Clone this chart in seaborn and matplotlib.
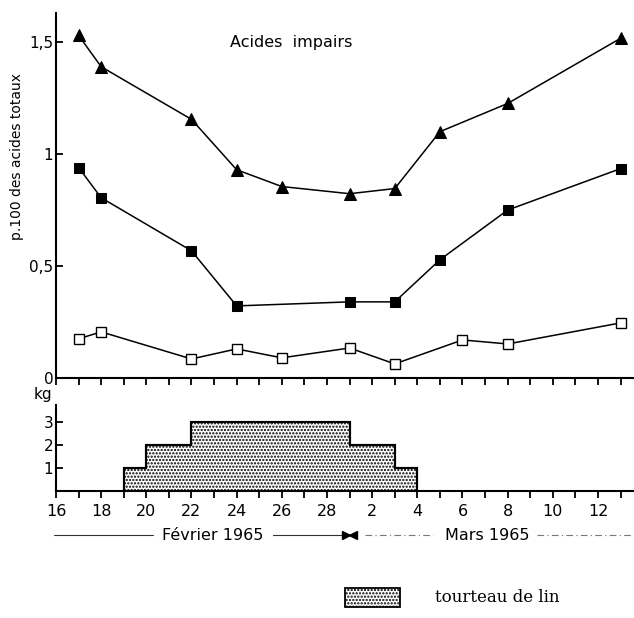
import matplotlib
matplotlib.use("Agg")
import matplotlib.pyplot as plt
import matplotlib.transforms as mtransforms
from matplotlib.patches import Rectangle
import seaborn as sns
import numpy as np

# ---- data (x = day counted from 16 Feb 1965 = 16; 1 March = 29) ----
tri_days = [17, 18, 22, 24, 26, 29, 31, 33, 36, 41]
tri_vals = [1.53, 1.39, 1.155, 0.93, 0.855, 0.823, 0.846, 1.10, 1.226, 1.517]

fsq_days = [17, 18, 22, 24, 29, 31, 33, 36, 41]
fsq_vals = [0.94, 0.805, 0.568, 0.322, 0.34, 0.34, 0.528, 0.75, 0.935]

osq_days = [17, 18, 22, 24, 26, 29, 31, 34, 36, 41]
osq_vals = [0.175, 0.206, 0.085, 0.13, 0.09, 0.134, 0.063, 0.17, 0.152, 0.246]

feed_edges = [19, 20, 22, 29, 31, 32]
feed_kg = [1, 2, 3, 2, 1]

x_tick_pos = [16, 18, 20, 22, 24, 26, 28, 30, 32, 34, 36, 38, 40]
x_tick_lab = ["16", "18", "20", "22", "24", "26", "28", "2", "4", "6", "8", "10", "12"]
y1_tick_pos = [0, 0.5, 1, 1.5]
y1_tick_lab = ["0", "0,5", "1", "1,5"]
y2_tick_pos = [1, 2, 3]
y2_tick_lab = ["1", "2", "3"]

sns.set_style("white")
plt.rcParams["font.family"] = ["DejaVu Sans"]
plt.rcParams["hatch.linewidth"] = 1.1
plt.rcParams["text.color"] = "black"

W, H = 634, 618
fig = plt.figure(figsize=(W / 100, H / 100), dpi=100)

XMIN, XMAX = 16, 41.55
ax1 = fig.add_axes([56 / W, 240 / H, 577 / W, 365 / H])
ax2 = fig.add_axes([56 / W, 127 / H, 577 / W, 86 / H])

lw = 1.1
sns.lineplot(x=tri_days, y=tri_vals, ax=ax1, color="black", linewidth=lw,
             marker="^", markersize=8.5, markeredgecolor="black", markerfacecolor="black")
sns.lineplot(x=fsq_days, y=fsq_vals, ax=ax1, color="black", linewidth=lw,
             marker="s", markersize=6.5, markeredgecolor="black", markerfacecolor="black")
sns.lineplot(x=osq_days, y=osq_vals, ax=ax1, color="black", linewidth=lw,
             marker="s", markersize=6.5, markeredgecolor="black", markerfacecolor="white",
             markeredgewidth=1.0)

for ax in (ax1, ax2):
    for s in ("top", "right"):
        ax.spines[s].set_visible(False)
    for s in ("left", "bottom"):
        ax.spines[s].set_linewidth(1.5)
        ax.spines[s].set_color("black")
    ax.set_xlim(XMIN, XMAX)
    ax.set_xticks(np.arange(16, 42))
    ax.tick_params(axis="x", bottom=True, direction="out", length=5, width=1.3,
                   colors="black")
    ax.tick_params(axis="y", left=True, direction="in", length=5, width=1.3,
                   colors="black", pad=2, labelsize=11)
    ax.set_xlabel("")
    ax.set_ylabel("")

ax1.set_ylim(0, 1.63)
ax1.set_yticks(y1_tick_pos)
ax1.set_yticklabels(y1_tick_lab)
ax1.set_xticklabels([])
fig.text(291 / W, 1 - 43 / H, "Acides  impairs", ha="center", va="center",
         fontsize=11.5, color="black")
fig.text(17 / W, 1 - 157 / H, "p.100 des acides totaux", rotation=90,
         ha="center", va="center", fontsize=10, color="black")

# lower panel: linseed cake
ax2.stairs(feed_kg, feed_edges, fill=True, facecolor="white", edgecolor="black",
           hatch=".....", linewidth=1.5)
ax2.stairs(feed_kg, feed_edges, fill=False, edgecolor="black", linewidth=1.5)
ax2.set_ylim(0, 3.75)
ax2.set_yticks(y2_tick_pos)
ax2.set_yticklabels(y2_tick_lab)
ax2.set_xticks(np.arange(16, 42))
labels = []
for d in range(16, 42):
    if d in x_tick_pos:
        labels.append(x_tick_lab[x_tick_pos.index(d)])
    else:
        labels.append("")
ax2.set_xticklabels(labels)
ax2.tick_params(axis="x", labelsize=11.5, pad=4)
ax2.text(-13 / 577, (491 - 395) / 86, "kg", transform=ax2.transAxes,
         ha="center", va="center", fontsize=11, color="black")

# month rows
tr = mtransforms.blended_transform_factory(ax2.transData, ax2.transAxes)
yrow = -(535 - 491) / 86
ax2.plot([15.9, 20.3], [yrow, yrow], transform=tr, color="#333333", lw=0.8, clip_on=False)
ax2.plot([25.6, 28.7], [yrow, yrow], transform=tr, color="#333333", lw=0.8, clip_on=False)
ax2.text(22.95, yrow, "Février 1965", transform=tr, ha="center", va="center",
         fontsize=11.5, color="black")
ax2.plot([28.83], [yrow], transform=tr, marker=">", color="black", markersize=6, clip_on=False)
ax2.plot([29.17], [yrow], transform=tr, marker="<", color="black", markersize=6, clip_on=False)
ax2.plot([29.7, 32.7], [yrow, yrow], transform=tr, color="#777777", lw=0.8,
         ls=(0, (6, 3, 1, 3)), clip_on=False)
ax2.plot([37.3, 41.6], [yrow, yrow], transform=tr, color="#777777", lw=0.8,
         ls=(0, (6, 3, 1, 3)), clip_on=False)
ax2.text(35.1, yrow, "Mars 1965", transform=tr, ha="center", va="center",
         fontsize=11.5, color="black")

# legend
fig.patches.append(Rectangle((345 / W, (618 - 607) / H), 55 / W, 19 / H,
                             transform=fig.transFigure, facecolor="white",
                             edgecolor="black", hatch=".....", linewidth=1.3))
fig.text(435 / W, (618 - 597) / H, "tourteau de lin", ha="left", va="center",
         fontsize=12, family=["DejaVu Serif"], color="black")

fig.savefig("out.png", dpi=100)
